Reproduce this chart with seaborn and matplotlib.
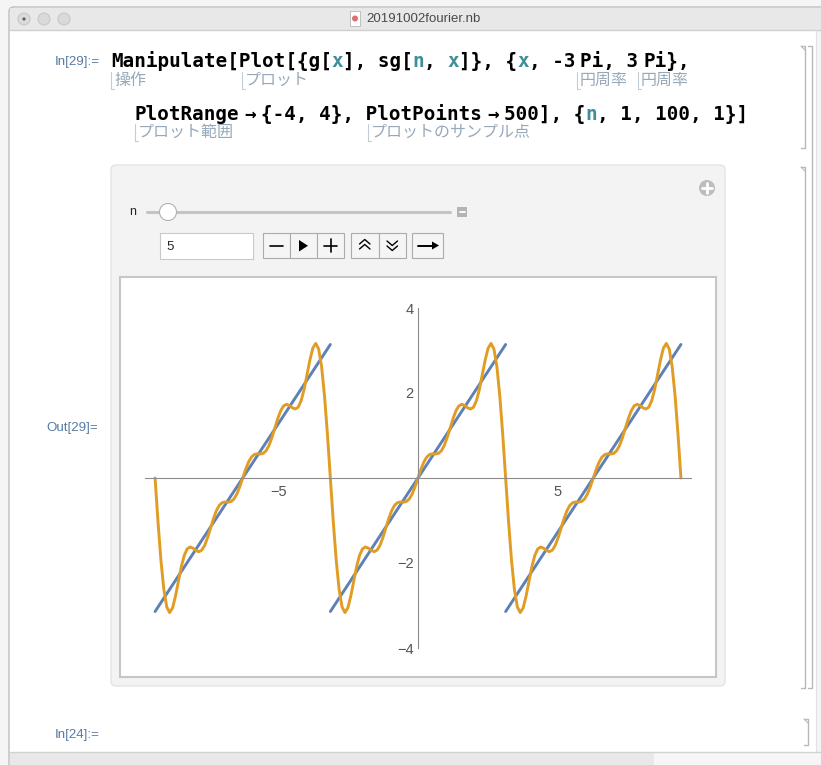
import numpy as np
import pandas as pd
import matplotlib
matplotlib.use("Agg")
import matplotlib.pyplot as plt
from matplotlib.patches import Rectangle, FancyBboxPatch, Circle, Polygon
import seaborn as sns

sg_deg = np.arange(0, 181, 6)
sg_half = [0.000, 0.204, 0.376, 0.494, 0.554, 0.568, 0.565, 0.579, 0.641, 0.767,
           0.953, 1.175, 1.398, 1.582, 1.697, 1.733, 1.706, 1.652, 1.623, 1.667,
           1.819, 2.081, 2.422, 2.776, 3.055, 3.166, 3.034, 2.621, 1.932, 1.026, 0.000]
# sawtooth g[x]: every tooth climbs from -Pi to Pi
g_lo, g_hi = -np.pi, np.pi
period_centers = [-2 * np.pi, 0.0, 2 * np.pi]

xtick_major = [-5, 5]
xtick_labels = ["\u22125", "5"]
ytick_major = [-4, -2, 2, 4]
ytick_labels = ["\u22124", "\u22122", "2", "4"]
n_value = "5"

BLUE = "#5e81b5"
ORANGE = "#e19c24"
TEAL = "#3f8f9b"
HINT = "#97a8b9"
LABEL = "#577ba3"

# one full tooth of the Fourier sum (odd function), then three teeth side by side
theta = np.deg2rad(sg_deg)
half = np.array(sg_half)
th_period = np.concatenate([-theta[::-1], theta[1:]])
y_period = np.concatenate([-half[::-1], half[1:]])
orange = pd.concat([pd.DataFrame({"x": c + th_period, "y": y_period}) for c in period_centers],
                   ignore_index=True)
blue = pd.DataFrame({
    "x": [c + v for c in period_centers for v in (g_lo, g_hi)],
    "y": [v for c in period_centers for v in (g_lo, g_hi)],
    "tooth": [i for i in range(len(period_centers)) for _ in range(2)],
})

sns.set_style("white")
plt.rcParams["font.family"] = ["Liberation Sans", "DejaVu Sans"]

fig = plt.figure(figsize=(8.21, 7.65), dpi=100, facecolor="#f5f5f5")

# ---- notebook window drawn in pixel coordinates ----
bg = fig.add_axes([0, 0, 1, 1])
bg.set_xlim(0, 821)
bg.set_ylim(765, 0)
bg.axis("off")

bg.add_patch(FancyBboxPatch((9, 7), 830, 780, boxstyle="round,pad=0,rounding_size=5",
                            fc="white", ec="#bdbdbd", lw=1))
bg.add_patch(Rectangle((9.5, 7.5), 812, 22, fc="#e8e8e8", ec="none"))
bg.plot([9.5, 821], [29.5, 29.5], color="#d0d0d0", lw=1)
for cx in (24, 44, 64):
    bg.add_patch(Circle((cx, 19), 6, fc="#dadada", ec="#c8c8c8", lw=0.8))
bg.add_patch(Circle((24, 19), 1.6, fc="#606060", ec="none"))
bg.add_patch(Rectangle((350, 11), 10, 15, fc="white", ec="#c0c0c0", lw=0.7))
bg.add_patch(Circle((355, 18.5), 3, fc="#e07070", ec="none"))
bg.text(366, 19, "20191002fourier.nb", fontsize=9.5, color="#4a4a4a", va="center")

# scroll bars
bg.add_patch(Rectangle((816, 30), 6, 722, fc="#f4f4f4", ec="none"))
bg.plot([816, 816], [30, 752], color="#e2e2e2", lw=0.8)
bg.add_patch(Rectangle((10, 752), 644, 14, fc="#e8e8e8", ec="none"))
bg.add_patch(Rectangle((654, 752), 168, 14, fc="#f6f6f6", ec="none"))
bg.plot([10, 821], [752, 752], color="#d2d2d2", lw=1)

# cell labels
lab = dict(fontsize=9.6, color=LABEL, va="center")
bg.text(55, 62, "In[29]:=", **lab)
bg.text(46, 428, "Out[29]=", **lab)
bg.text(55, 735, "In[24]:=", **lab)

# input code, monospace pieces laid out with a cursor
ADV = 11.6
THIN = None
code_font = dict(family="DejaVu Sans Mono", fontweight="bold", fontsize=13.87, va="baseline")


def code_line(x0, y, pieces):
    x = x0
    for piece in pieces:
        if piece is THIN:
            x += ADV * 0.45
            continue
        txt, col = piece
        bg.text(x, y, txt, color=col, **code_font)
        x += ADV * len(txt)


K = "black"
code_line(111, 67, [("Manipulate[Plot[{g[", K), ("x", TEAL), ("], sg[", K), ("n", TEAL),
                    (", ", K), ("x", TEAL), ("]}, {", K), ("x", TEAL), (", -3", K), THIN,
                    ("Pi, 3", K), THIN, ("Pi},", K)])
code_line(135, 120, [("PlotRange", K), THIN, ("\u2192", K), THIN, ("{-4, 4}, PlotPoints", K),
                     THIN, ("\u2192", K), THIN, ("500], {", K), ("n", TEAL),
                     (", 1, 100, 1}]", K)])


def hint(x, y, txt):
    bg.plot([x + 3, x, x], [y + 9, y + 9, y - 8], color="#c3ccd5", lw=0.8)
    bg.text(x + 3, y, txt, fontsize=11.5, color=HINT, va="center",
            family=["Noto Sans CJK JP", "DejaVu Sans"])


hint(111, 80, "操作")
hint(242, 80, "プロット")
hint(577, 80, "円周率")
hint(638, 80, "円周率")
hint(135, 132, "プロット範囲")
hint(368, 132, "プロットのサンプル点")


# cell brackets on the right
def bracket(x, y0, y1):
    bg.plot([x - 4, x, x, x - 4], [y0, y0, y1, y1], color="#b8b8b8", lw=1)


bracket(805, 46, 148)
bracket(805, 167, 688)
bracket(812, 46, 688)
bracket(808, 719, 745)
for tx, ty in ((801, 46), (801, 167), (804, 719)):
    bg.plot([tx, tx + 4], [ty, ty + 4], color="#b8b8b8", lw=0.8)

# Manipulate panel with its controls
bg.add_patch(FancyBboxPatch((111, 165), 614, 521, boxstyle="round,pad=0,rounding_size=5",
                            fc="#f3f3f3", ec="#e4e4e4", lw=1))
bg.add_patch(Circle((707, 188), 8, fc="#bdbdbd", ec="none"))
bg.plot([702, 712], [188, 188], color="white", lw=2)
bg.plot([707, 707], [183, 193], color="white", lw=2)

bg.text(133, 212, "n", fontsize=9, ha="center", va="center")
bg.plot([147, 450], [212, 212], color="#c4c4c4", lw=2.2, solid_capstyle="round")
bg.add_patch(Circle((168, 212), 8.5, fc="white", ec="#b2b2b2", lw=0.8, zorder=3))
bg.add_patch(Rectangle((457, 207), 10, 10, fc="#b4b4b4", ec="none"))
bg.plot([459.5, 464.5], [212, 212], color="white", lw=1.3)

bg.add_patch(Rectangle((160, 233), 93, 26, fc="white", ec="#c9c9c9", lw=0.8))
bg.text(166, 246.5, n_value, fontsize=9.5, va="center")

for x0, w in ((263, 27), (290, 27), (317, 27), (351, 27.5), (378.5, 27.5), (412, 31)):
    bg.add_patch(Rectangle((x0, 233), w, 25, fc="#f5f5f5", ec="#ababab", lw=0.8))
bg.plot([270, 283], [245.5, 245.5], color="black", lw=1.2)
bg.add_patch(Polygon([(299, 240), (299, 251.5), (308, 245.75)], closed=True, fc="black", ec="none"))
bg.plot([324, 337], [245.5, 245.5], color="black", lw=1.2)
bg.plot([330.5, 330.5], [239, 252], color="black", lw=1.2)
bg.plot([359.5, 364.75, 370], [244, 239.5, 244], color="black", lw=1)
bg.plot([359.5, 364.75, 370], [249, 244.5, 249], color="black", lw=1)
bg.plot([387, 392.25, 397.5], [241, 245.5, 241], color="black", lw=1)
bg.plot([387, 392.25, 397.5], [246, 250.5, 246], color="black", lw=1)
bg.plot([418, 435], [245.5, 245.5], color="black", lw=1.4)
bg.add_patch(Polygon([(432, 241.5), (439, 245.5), (432, 249.5)], closed=True, fc="black", ec="none"))

# plot frame
bg.add_patch(Rectangle((120, 277), 596, 400, fc="white", ec="#c6c6c6", lw=1.5))

# ---- the plot itself ----
ax = fig.add_axes([144.6 / 821, 1 - 648 / 765, 546.8 / 821, 340 / 765])
ax.set_facecolor("none")

sns.lineplot(data=blue, x="x", y="y", units="tooth", estimator=None, sort=False,
             color=BLUE, lw=2.1, ax=ax)
sns.lineplot(data=orange, x="x", y="y", estimator=None, sort=False,
             color=ORANGE, lw=2.1, ax=ax)

ax.set_xlim(-9.8, 9.8)
ax.set_ylim(-4, 4)
ax.set_xlabel("")
ax.set_ylabel("")
for side in ("top", "right"):
    ax.spines[side].set_visible(False)
ax.spines["left"].set_position(("data", 0))
ax.spines["bottom"].set_position(("data", 0))
for side in ("left", "bottom"):
    ax.spines[side].set_color("#8c8c8c")
    ax.spines[side].set_linewidth(0.8)

ax.set_xticks(xtick_major, xtick_labels)
ax.set_xticks(np.arange(-9, 10), minor=True)
ax.set_yticks(ytick_major, ytick_labels)
ax.set_yticks(np.arange(-4, 4.01, 0.5), minor=True)
ax.tick_params(which="both", direction="in", color="#8c8c8c", width=0.7,
               labelsize=10.5, labelcolor="#555555")
ax.tick_params(which="major", length=3)
ax.tick_params(which="minor", length=1.8)
ax.tick_params(axis="x", pad=5)
ax.tick_params(axis="y", pad=3)

fig.savefig("out.png", dpi=100, facecolor=fig.get_facecolor())
